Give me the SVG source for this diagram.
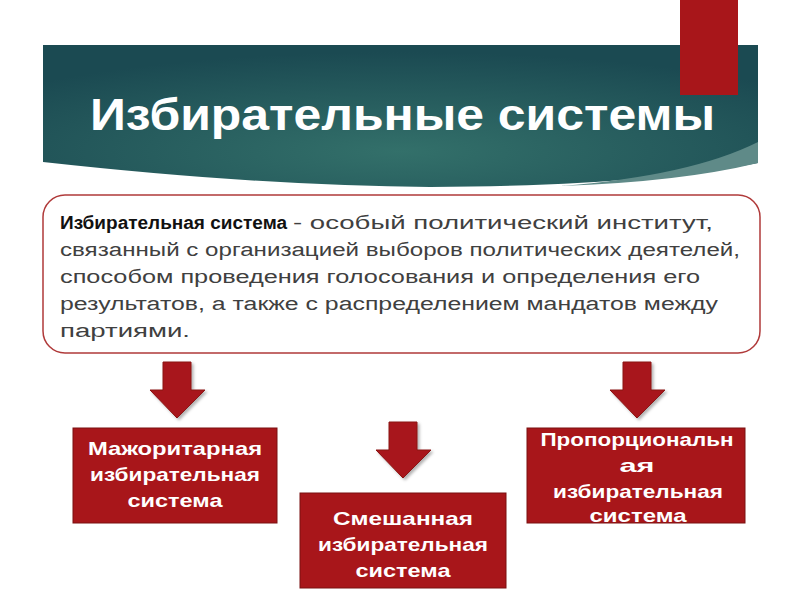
<svg xmlns="http://www.w3.org/2000/svg" width="800" height="600" viewBox="0 0 800 600">
<style>
.title{font-family:"Liberation Sans",Arial,sans-serif;font-weight:bold;font-size:44px;fill:#ffffff}
.def{font-family:"Liberation Sans",Arial,sans-serif;font-size:18px;fill:#404040}
.defb{font-family:"Liberation Sans",Arial,sans-serif;font-size:18px;font-weight:bold;fill:#111111}
.box{fill:#a8161a;stroke:#7a1010;stroke-width:1}
.lbl{font-family:"Liberation Sans",Arial,sans-serif;font-size:19px;font-weight:bold;fill:#ffffff;text-anchor:middle}
.arrow{fill:#a8161a;stroke:#8a1212;stroke-width:1}
</style>
<defs>
<radialGradient id="hg" cx="0.5" cy="0.75" r="0.7">
<stop offset="0" stop-color="#33706a"/>
<stop offset="1" stop-color="#1b4a52"/>
</radialGradient>
<filter id="sh" x="-20%" y="-20%" width="150%" height="150%">
<feDropShadow dx="2" dy="2" stdDeviation="1.5" flood-color="#000" flood-opacity="0.3"/>
</filter>
</defs>
<rect width="800" height="600" fill="#ffffff"/>
<g id="header">
<path d="M43,45 L758,45 L758,163 Q640,186 430,187 Q260,186 43,162 Z" fill="url(#hg)"/>
<path d="M758,142 Q690,176 560,186 Q680,182 758,163 Z" fill="#5f8a88"/>
<rect x="680" y="0" width="58" height="95" fill="#a8161a"/>
<text class="title" x="90" y="130" textLength="625" lengthAdjust="spacingAndGlyphs">Избирательные системы</text>
</g>
<g id="definition">
<rect x="43" y="195" width="717" height="158" rx="22" ry="22" fill="#ffffff" stroke="#b03a3a" stroke-width="1.5"/>
<text class="defb" x="60" y="229" textLength="227" lengthAdjust="spacingAndGlyphs">Избирательная система</text>
<text class="def" x="293" y="229" textLength="420" lengthAdjust="spacingAndGlyphs">- особый политический институт,</text>
<text class="def" x="60" y="256" textLength="680" lengthAdjust="spacingAndGlyphs">связанный с организацией выборов политических деятелей,</text>
<text class="def" x="60" y="283" textLength="640" lengthAdjust="spacingAndGlyphs">способом проведения голосования и определения его</text>
<text class="def" x="60" y="310" textLength="658" lengthAdjust="spacingAndGlyphs">результатов, а также с распределением мандатов между</text>
<text class="def" x="60" y="337" textLength="130" lengthAdjust="spacingAndGlyphs">партиями.</text>
</g>
<g id="connectors">
<polygon class="arrow" filter="url(#sh)" points="163,362 191,362 191,390 205,390 177,418 150,390 163,390"/>
<polygon class="arrow" filter="url(#sh)" points="389,422 417,422 417,450 431,450 403,478 376,450 389,450"/>
<polygon class="arrow" filter="url(#sh)" points="623,362 651,362 651,390 665,390 637,418 610,390 623,390"/>
</g>
<g id="majoritarian">
<rect class="box" x="73" y="428" width="204" height="95"/>
<text class="lbl" x="175" y="455" textLength="174" lengthAdjust="spacingAndGlyphs">Мажоритарная</text>
<text class="lbl" x="175" y="481" textLength="170" lengthAdjust="spacingAndGlyphs">избирательная</text>
<text class="lbl" x="175" y="507" textLength="95" lengthAdjust="spacingAndGlyphs">система</text>
</g>
<g id="mixed">
<rect class="box" x="300" y="493" width="206" height="95"/>
<text class="lbl" x="403" y="525" textLength="140" lengthAdjust="spacingAndGlyphs">Смешанная</text>
<text class="lbl" x="403" y="551" textLength="170" lengthAdjust="spacingAndGlyphs">избирательная</text>
<text class="lbl" x="403" y="577" textLength="95" lengthAdjust="spacingAndGlyphs">система</text>
</g>
<g id="proportional">
<rect class="box" x="527" y="428" width="218" height="95"/>
<text class="lbl" x="637" y="446" textLength="193" lengthAdjust="spacingAndGlyphs">Пропорциональн</text>
<text class="lbl" x="637" y="472" textLength="35" lengthAdjust="spacingAndGlyphs">ая</text>
<text class="lbl" x="638" y="498" textLength="170" lengthAdjust="spacingAndGlyphs">избирательная</text>
<text class="lbl" x="638" y="522" textLength="97" lengthAdjust="spacingAndGlyphs">система</text>
</g>
</svg>
